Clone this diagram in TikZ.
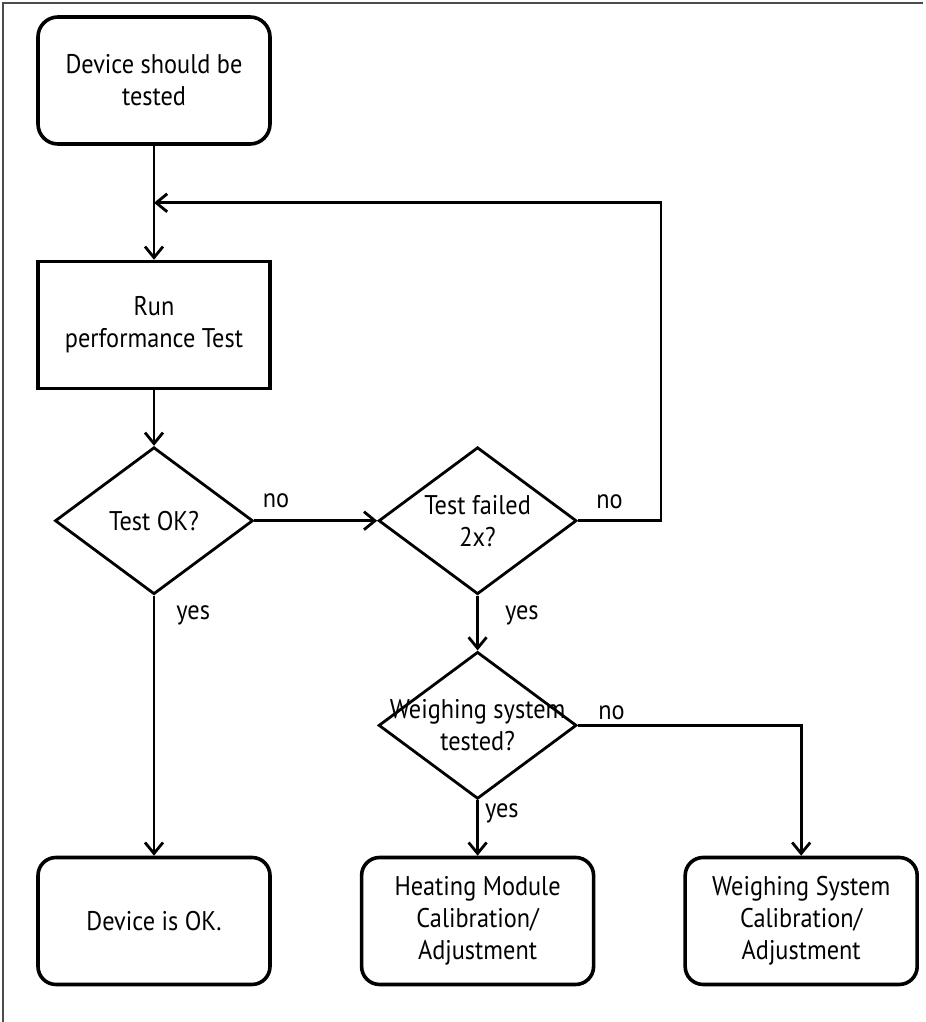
\documentclass[tikz,border=0pt]{standalone}
\usepackage{fontspec}
\setmainfont{PT Sans}[FakeStretch=0.9]
\usepackage{tikz}
\usetikzlibrary{calc}
\usetikzlibrary{matrix}
\usetikzlibrary{positioning}
\usetikzlibrary{shapes.geometric}
\usetikzlibrary{arrows.meta}

\tikzset{
  box/.style={rectangle,draw=black,line width=1.8pt,align=center,anchor=center,
              minimum width=116pt,minimum height=63.5pt},
  startbox/.style={box,rounded corners=10pt},
  endbox/.style={box,rounded corners=9pt},
  decision/.style={diamond,draw=black,line width=1.4pt,inner sep=0pt,
                   minimum width=99pt,minimum height=73.5pt},
  flow/.style={line width=1.4pt,-{Straight Barb[length=5.5pt,width=9pt]}},
  lbl/.style={inner sep=0pt},
  frame/.style={draw=black!70,line width=0.75pt},
}

\begin{document}
\begin{tikzpicture}[font=\fontsize{13.5}{16}\selectfont]
  \matrix(chart)[row sep=28pt,column sep=44pt]
  {
    \node[startbox] (start) {Device should be\\tested}; & & \\[29pt]
    \node[box] (run) {Run\\performance Test}; & & \\
    \node[decision,label={center:Test OK?}] (ok) {}; &
    \node[decision,label={[align=center]center:Test failed\\2x?}] (fail) {}; & \\
    & \node[decision,label={[align=center]center:Weighing system\\tested?}] (weigh) {}; & \\
    \node[endbox] (good) {Device is OK.}; &
    \node[endbox] (heat) {Heating Module\\Calibration/\\Adjustment}; &
    \node[endbox] (wsys) {Weighing System\\Calibration/\\Adjustment}; \\
  };

  % page and frame
  \path (start.center) ++(-77pt,40.25pt) coordinate (tl);
  \useasboundingbox (tl) rectangle ($(tl)+(461.5pt,-511pt)$);
  \draw[frame] ($(tl)+(1.5pt,-511pt)$) -- ($(tl)+(1.5pt,-1.5pt)$) -- ($(tl)+(461.5pt,-1.5pt)$);

  % connectors
  \coordinate (back) at ($(start.south)!0.5!(run.north)$);
  \draw[flow] (start) -- (run);
  \draw[flow] (run) -- (ok);
  \draw[flow] (ok) -- (fail);
  \draw[flow] (fail.east) -- ++(41.5pt,0) |- (back);
  \draw[flow] (ok) -- (good);
  \draw[flow] (fail) -- (weigh);
  \draw[flow] (weigh) -- (heat);
  \draw[flow] (weigh.east) -| (wsys.north);

  % branch labels
  \node[lbl,above right=6pt and 4pt of ok.east] (okno) {no};
  \node[lbl,below right=5pt and 11pt of ok.south] (okyes) {yes};
  \node[lbl,above right=5.5pt and 9pt of fail.east] (failno) {no};
  \node[lbl,below right=5pt and 13.5pt of fail.south] (failyes) {yes};
  \node[lbl,above right=2.5pt and 10pt of weigh.east] (weighno) {no};
  \node[lbl,below right=1.5pt and 3.5pt of weigh.south] (weighyes) {yes};
\end{tikzpicture}
\end{document}
